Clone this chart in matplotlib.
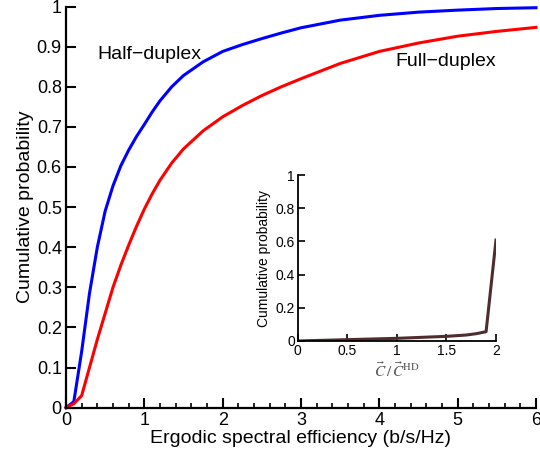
import matplotlib
matplotlib.use('Agg')
import matplotlib.pyplot as plt
from matplotlib.ticker import MultipleLocator

plt.rcParams['font.family'] = ['Liberation Sans', 'DejaVu Sans']
plt.rcParams['mathtext.fontset'] = 'stix'

# CDF of ergodic spectral efficiency (b/s/Hz)
se_hd = [0, 0.1, 0.2, 0.3, 0.4, 0.5, 0.6, 0.7, 0.8, 0.9, 1.0, 1.1, 1.2, 1.35,
         1.5, 1.75, 2.0, 2.25, 2.5, 2.75, 3.0, 3.5, 4.0, 4.5, 5.0, 5.5, 6.0]
cdf_hd = [0, 0.015, 0.14, 0.285, 0.40, 0.49, 0.553, 0.603, 0.642, 0.676,
          0.706, 0.737, 0.765, 0.8, 0.828, 0.862, 0.888, 0.905, 0.92, 0.934,
          0.947, 0.966, 0.978, 0.986, 0.991, 0.995, 0.997]

se_fd = [0, 0.1, 0.2, 0.3, 0.4, 0.5, 0.6, 0.7, 0.8, 0.9, 1.0, 1.1, 1.2, 1.35,
         1.5, 1.75, 2.0, 2.25, 2.5, 2.75, 3.0, 3.5, 4.0, 4.5, 5.0, 5.5, 6.0]
cdf_fd = [0, 0.01, 0.03, 0.10, 0.17, 0.235, 0.30, 0.355, 0.405, 0.452,
          0.495, 0.533, 0.567, 0.61, 0.645, 0.69, 0.725, 0.753, 0.778, 0.8,
          0.82, 0.858, 0.888, 0.909, 0.926, 0.938, 0.948]

# ratio FD / HD
ratio = [0, 0.5, 1.0, 1.5, 1.7, 1.8, 1.9, 2.0]
cdf_ratio = [0, 0.008, 0.016, 0.028, 0.036, 0.044, 0.056, 0.608]

main_yticks = [0, 0.1, 0.2, 0.3, 0.4, 0.5, 0.6, 0.7, 0.8, 0.9, 1]
main_ylabels = ['0', '0.1', '0.2', '0.3', '0.4', '0.5', '0.6', '0.7', '0.8',
                '0.9', '1']
inset_xticks = [0, 0.5, 1, 1.5, 2]
inset_xlabels = ['0', '0.5', '1', '1.5', '2']
inset_yticks = [0, 0.2, 0.4, 0.6, 0.8, 1]
inset_ylabels = ['0', '0.2', '0.4', '0.6', '0.8', '1']

fig = plt.figure(figsize=(5.4, 4.59), dpi=100)
ax = fig.add_axes([0.1222, 0.1118, 0.8704, 0.874])

ax.plot(se_hd, cdf_hd, color='b', lw=2.2, clip_on=False)
ax.plot(se_fd, cdf_fd, color='r', lw=2.2, clip_on=False)

ax.set_xlim(0, 6)
ax.set_ylim(0, 1)
ax.set_xticks(range(7))
ax.xaxis.set_minor_locator(MultipleLocator(0.2))
ax.set_yticks(main_yticks, main_ylabels)
for s in ['top', 'right']:
    ax.spines[s].set_visible(False)
for s in ['left', 'bottom']:
    ax.spines[s].set_linewidth(1.6)
ax.tick_params(which='major', direction='in', length=7.5, width=1.5,
               labelsize=13, pad=3)
ax.tick_params(which='minor', direction='in', length=3.5, width=1.2)
ax.tick_params(axis='y', which='minor', left=False)

ax.set_xlabel('Ergodic spectral efficiency (b/s/Hz)', fontsize=14, labelpad=1)
ax.set_ylabel('Cumulative probability', fontsize=14, labelpad=2)

ax.text(0.40, 0.88, 'Half\u2212duplex', fontsize=14, va='center')
ax.text(4.21, 0.864, 'Full\u2212duplex', fontsize=14, va='center')

# inset: capacity ratio
ins = fig.add_axes([0.5513, 0.2571, 0.3672, 0.3616])
ins.plot(ratio, cdf_ratio, color='#502d2d', lw=2.2)
ins.set_xlim(0, 2)
ins.set_ylim(0, 1)
ins.set_xticks(inset_xticks, inset_xlabels)
ins.set_yticks(inset_yticks, inset_ylabels)
for s in ['top', 'right']:
    ins.spines[s].set_visible(False)
for s in ['left', 'bottom']:
    ins.spines[s].set_linewidth(1.3)
ins.tick_params(direction='in', length=5, width=1.2, labelsize=10, pad=2)
ins.set_ylabel('Cumulative probability', fontsize=10, labelpad=3)
ins.set_xlabel(r'$\vec{C}\,/\,\vec{C}^{\rm HD}$', fontsize=11, color='#555555',
               labelpad=2)

fig.savefig('out.png', dpi=100)
